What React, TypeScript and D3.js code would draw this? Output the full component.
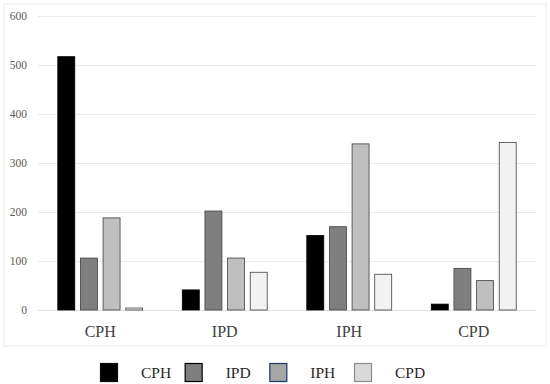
import React from 'react';
import * as d3 from 'd3';

// groups along x and series within each group
const groups = ['CPH', 'IPD', 'IPH', 'CPD'];
const series = ['CPH', 'IPD', 'IPH', 'CPD'];

// values read per group, in series order
const cphValues = [517, 106, 188, 4];
const ipdValues = [41, 202, 106, 77];
const iphValues = [152, 170, 339, 73];
const cpdValues = [12, 85, 60, 342];

const yTicks = [0, 100, 200, 300, 400, 500, 600];

const barFill = ['#000000', '#7f7f7f', '#bfbfbf', '#f2f2f2'];
const legendFill = ['#000000', '#7f7f7f', '#a6a6a6', '#d9d9d9'];
const legendStroke = ['#0d0d1a', '#000000', '#1f3864', '#8c8c8c'];

const W = 550;
const H = 384;

const App = () => {
  const table = [cphValues, ipdValues, iphValues, cpdValues];

  const x = d3.scaleBand().domain(groups).range([38, 536]).paddingInner(0.31).paddingOuter(0.155);
  const xSub = d3.scaleBand().domain(series).range([0, x.bandwidth()]).paddingInner(0.206);
  const y = d3.scaleLinear().domain([0, 600]).range([310, 16]);

  const legend = d3.scalePoint().domain(series).range([100, 354]);

  return (
    <svg width={W} height={H} style={{ position: 'absolute', left: 0, top: 0, background: '#fff' }}>
      <rect x={4} y={4} width={542} height={342} fill="#fff" stroke="#ececec" strokeWidth={1} />
      {yTicks.map(t => (
        <g key={t}>
          <line x1={38} x2={536} y1={y(t) + 0.5} y2={y(t) + 0.5} stroke={t === 0 ? '#dedede' : '#ebebeb'} strokeWidth={1.2} />
          <text x={27} y={y(t) + 4} textAnchor="end" fontFamily="Liberation Serif" fontSize={11.5} fill="#595959">{t}</text>
        </g>
      ))}
      {groups.map((g, gi) => (
        <g key={g} transform={`translate(${x(g)},0)`}>
          {series.map((s, si) => {
            const v = table[gi][si];
            return (
              <rect key={s} x={xSub(s)! + 0.5} y={y(v)} width={xSub.bandwidth() - 1} height={y(0) - y(v)}
                fill={barFill[si]} stroke={si === 0 ? '#000' : '#404040'} strokeWidth={0.8} />
            );
          })}
          <text x={x.bandwidth() / 2} y={337} textAnchor="middle" fontFamily="Liberation Serif" fontSize={16} fill="#404040">{g}</text>
        </g>
      ))}
      {series.map((s, si) => (
        <g key={s} transform={`translate(${legend(s)},0)`}>
          <rect x={0.5} y={363.5} width={17} height={18} fill={legendFill[si]} stroke={legendStroke[si]} strokeWidth={1.2} />
          <text x={41} y={378} fontFamily="Liberation Serif" fontSize={15.5} fill="#262626">{s}</text>
        </g>
      ))}
    </svg>
  );
};

export default App;
